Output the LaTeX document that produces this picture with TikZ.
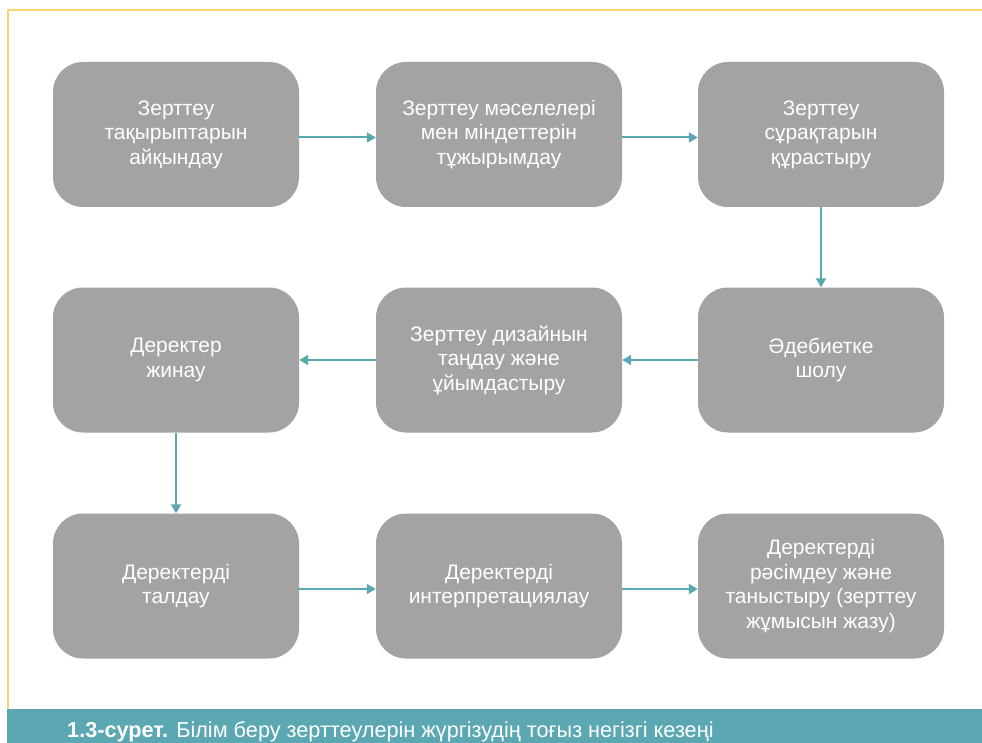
\documentclass[tikz,border=0pt]{standalone}
\usepackage{fontspec}
\setmainfont{Liberation Sans}
\usetikzlibrary{arrows.meta}
\definecolor{boxgrey}{HTML}{A3A3A3}
\definecolor{flowteal}{HTML}{5BA8B3}
\definecolor{frameyellow}{HTML}{F9D56E}
\begin{document}
\begin{tikzpicture}[x=1pt,y=-1pt,
  stage/.style={fill=boxgrey, rounded corners=30pt, minimum width=246pt, minimum height=145pt,
    text=white, align=center, font=\fontsize{21}{24.5}\selectfont, inner sep=0pt},
  flow/.style={draw=flowteal, line width=2pt, -{Triangle[length=9pt,width=10pt]}}]
  \useasboundingbox (0,0) rectangle (982,743);
  % frame lines
  \draw[frameyellow, line width=2pt] (7.5,709) -- (7.5,10) -- (982,10);
  % caption bar
  \fill[flowteal] (7,709) rectangle (982,743);
  \node[anchor=base west, text=white, font=\fontsize{21.7}{24}\selectfont, inner sep=0pt] (cap) at (67,737)
    {\textbf{1.3-сурет.} Білім беру зерттеулерін жүргізудің тоғыз негізгі кезеңі};
  % stages
  \node[stage] (s1) at (176,134.5) {Зерттеу\\тақырыптарын\\айқындау};
  \node[stage] (s2) at (499,134.5) {Зерттеу мәселелері\\мен міндеттерін\\тұжырымдау};
  \node[stage] (s3) at (821,134.5) {Зерттеу\\сұрақтарын\\құрастыру};
  \node[stage] (s4) at (176,360) {Деректер\\жинау};
  \node[stage] (s5) at (499,360) {Зерттеу дизайнын\\таңдау және\\ұйымдастыру};
  \node[stage] (s6) at (821,360) {Әдебиетке\\шолу};
  \node[stage] (s7) at (176,586) {Деректерді\\талдау};
  \node[stage] (s8) at (499,586) {Деректерді\\интерпретациялау};
  \node[stage] (s9) at (821,586) {Деректерді\\рәсімдеу және\\таныстыру (зерттеу\\жұмысын жазу)};
  % connectors
  \draw[flow] ([yshift=-3pt]s1.east) -- ([yshift=-3pt]s2.west);
  \draw[flow] ([yshift=-3pt]s2.east) -- ([yshift=-3pt]s3.west);
  \draw[flow] (s3.south) -- (s6.north);
  \draw[flow] (s6.west) -- (s5.east);
  \draw[flow] (s5.west) -- (s4.east);
  \draw[flow] (s4.south) -- (s7.north);
  \draw[flow] ([yshift=-3pt]s7.east) -- ([yshift=-3pt]s8.west);
  \draw[flow] ([yshift=-3pt]s8.east) -- ([yshift=-3pt]s9.west);
\end{tikzpicture}
\end{document}
